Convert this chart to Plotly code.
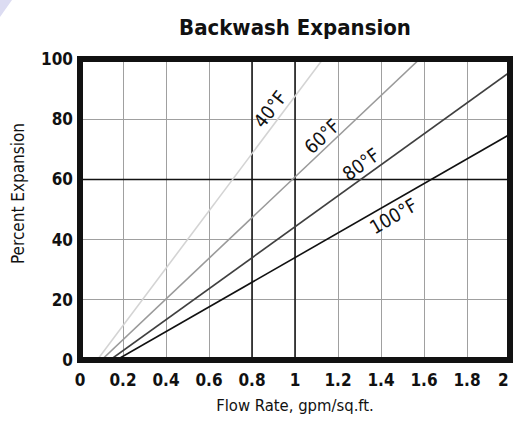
import plotly.graph_objects as go

# Data
series_names = ["40°F", "60°F", "80°F", "100°F"]
series_x = [[0.08, 1.13], [0.10, 1.58], [0.14, 2.0], [0.17, 2.0]]
series_y = [[0, 100], [0, 100], [0, 95.7], [0, 75]]
series_colors = ["#d4d4d4", "#9a9a9a", "#404040", "#111111"]
label_x = [0.884, 1.126, 1.307, 1.456]
label_y = [83.3, 74.3, 65.0, 47.7]
label_angle = [-52, -43, -36, -30]
x_ticks = [0, 0.2, 0.4, 0.6, 0.8, 1, 1.2, 1.4, 1.6, 1.8, 2]
x_tick_text = ["0", "0.2", "0.4", "0.6", "0.8", "1", "1.2", "1.4", "1.6", "1.8", "2"]
y_ticks = [0, 20, 40, 60, 80, 100]
dark_x = [0.8, 1]
dark_y = [60]

FONT = "DejaVu Sans Condensed, sans-serif"
TICKFONT = dict(family=FONT, size=17, color="#111", weight="bold")

fig = go.Figure()
for name, xs, ys, c in zip(series_names, series_x, series_y, series_colors):
    fig.add_trace(go.Scatter(x=xs, y=ys, mode="lines", name=name,
                             line=dict(color=c, width=1.6), showlegend=False))

for name, lx, ly, a in zip(series_names, label_x, label_y, label_angle):
    fig.add_annotation(x=lx, y=ly, text=name, showarrow=False, textangle=a,
                       font=dict(family=FONT, size=19, color="#111"))

shapes = []
for v in dark_x:
    shapes.append(dict(type="line", xref="x", yref="y", x0=v, x1=v, y0=0, y1=100,
                       line=dict(color="#111", width=1.5), layer="between"))
for v in dark_y:
    shapes.append(dict(type="line", xref="x", yref="y", x0=0, x1=2, y0=v, y1=v,
                       line=dict(color="#111", width=1.5), layer="between"))
# thick frame
shapes.append(dict(type="rect", xref="paper", yref="paper", x0=0, x1=1, y0=0, y1=1,
                   line=dict(color="#111", width=6), layer="above"))
# decorative corner triangle (pixel -> paper conversion)
W, H, L, R, T, B = 513, 423, 80, 3, 59, 63
pw, ph = W - L - R, H - T - B
def px(x): return (x - L) / pw
def py(y): return (H - B - y) / ph
shapes.append(dict(type="path", xref="paper", yref="paper",
                   path=f"M {px(0)} {py(0)} L {px(12)} {py(0)} L {px(0)} {py(17)} Z",
                   fillcolor="#dcdcf2", line=dict(width=0), layer="below"))

# y-axis title as annotation (sits slightly above the plot centre in the reference)
fig.add_annotation(xref="paper", yref="paper", x=px(18), y=py(193), text="Percent Expansion",
                   textangle=-90, showarrow=False, xanchor="center", yanchor="middle",
                   font=dict(family=FONT, size=17, color="#111"))

# last x tick label drawn right-aligned so it stays inside the page
shown_text = x_tick_text[:-1] + [""]
fig.add_annotation(x=x_ticks[-1], xref="x", yref="paper", y=py(380), text=x_tick_text[-1],
                   showarrow=False, xanchor="right", yanchor="middle", xshift=1,
                   font=TICKFONT)

fig.update_layout(
    width=W, height=H,
    margin=dict(l=L, r=R, t=T, b=B, autoexpand=False),
    paper_bgcolor="white", plot_bgcolor="white",
    title=dict(text="<b>Backwash Expansion</b>", xref="paper", x=0.5, xanchor="center",
               y=1 - 27 / H, yanchor="middle",
               font=dict(family=FONT, size=22, color="#111")),
    shapes=shapes,
    xaxis=dict(range=[0, 2], tickvals=x_ticks, ticktext=shown_text, automargin=False,
               showgrid=True, gridcolor="#a0a0a0", gridwidth=1, zeroline=False,
               showline=False, ticks="", ticklabelstandoff=8,
               tickfont=TICKFONT,
               title=dict(text="Flow Rate, gpm/sq.ft.", standoff=10,
                          font=dict(family=FONT, size=16.5, color="#111"))),
    yaxis=dict(range=[0, 100], tickvals=y_ticks, automargin=False,
               showgrid=True, gridcolor="#a0a0a0", gridwidth=1, zeroline=False,
               showline=False, ticks="", ticklabelstandoff=6,
               tickfont=TICKFONT),
)

fig.write_html("out.html", config={"displayModeBar": False},
               post_script="document.body.style.margin='0';")
